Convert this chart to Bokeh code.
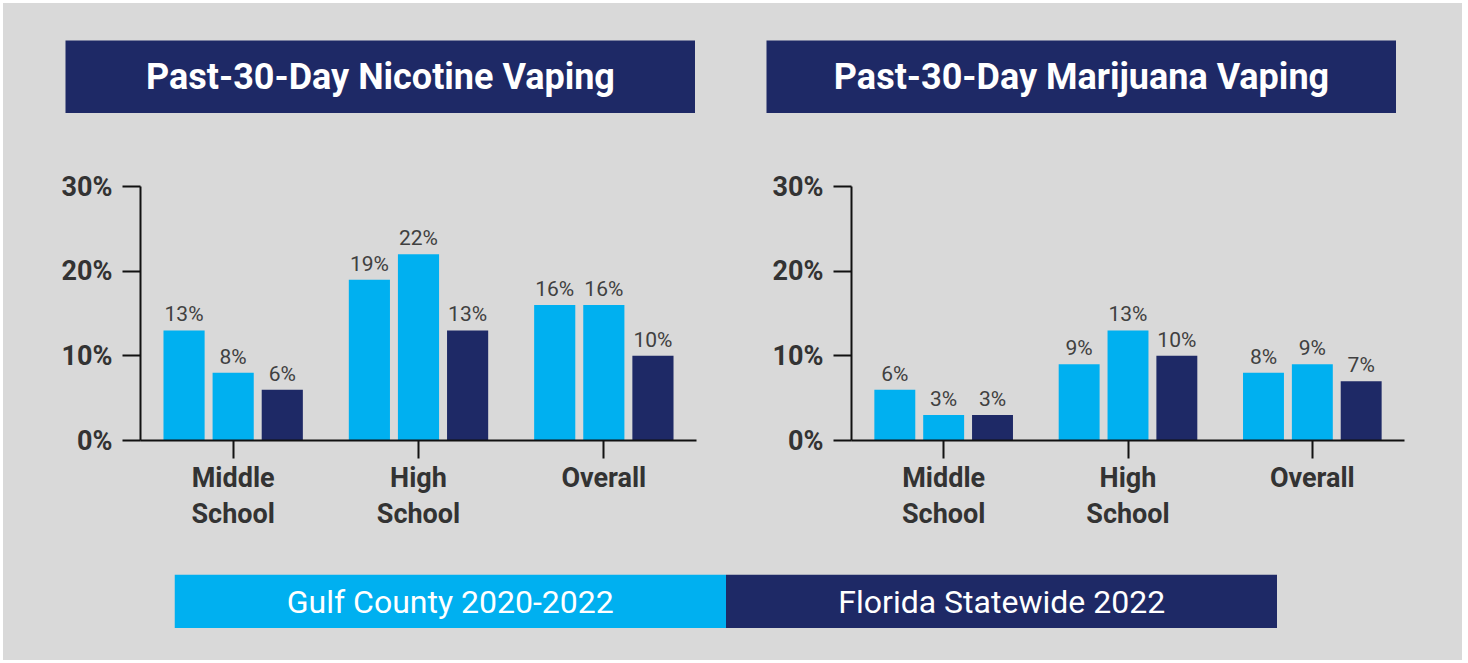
import numpy as np
from bokeh.plotting import figure
from bokeh.layouts import row, column
from bokeh.models import ColumnDataSource, Range1d, FixedTicker, PrintfTickFormatter, LabelSet
from bokeh.core.properties import value
from bokeh.embed import file_html
from bokeh.resources import INLINE

# ---- data ----
categories = ["Middle School", "High School", "Overall"]
tick_labels = ["Middle\nSchool", "High\nSchool", "Overall"]
series_names = ["Gulf County 2020", "Gulf County 2022", "Florida Statewide 2022"]
nicotine_gulf_2020 = [13, 19, 16]
nicotine_gulf_2022 = [8, 22, 16]
nicotine_florida_2022 = [6, 13, 10]
marijuana_gulf_2020 = [6, 9, 8]
marijuana_gulf_2022 = [3, 13, 9]
marijuana_florida_2022 = [3, 10, 7]
titles = ["Past-30-Day Nicotine Vaping", "Past-30-Day Marijuana Vaping"]
legend_labels = ["Gulf County 2020-2022", "Florida Statewide 2022"]
y_ticks = [0, 10, 20, 30]

# ---- style ----
BG = "#d9d9d9"
LIGHT = "#00b0f0"
NAVY = "#1e2966"
TEXT = "#333333"
FONT = "Roboto"
series_colors = [LIGHT, LIGHT, NAVY]
offsets = [-0.265, 0.0, 0.265]
BAR_W = 0.222


def title_fig(t, margin):
    f = figure(width=630, height=73, x_range=Range1d(0, 1), y_range=Range1d(0, 1),
               output_backend="svg", toolbar_location=None, min_border=0,
               x_axis_location=None, y_axis_location=None,
               background_fill_color=NAVY, border_fill_color=NAVY, outline_line_color=None)
    f.grid.visible = False
    f.text(x=[0.5], y=[0.5], text=[t], text_font=value(FONT), text_font_style="bold",
           text_font_size="36px", text_color="white", text_align="center", text_baseline="middle")
    f.margin = margin
    return f


def panel(series_vals, width, bl, br):
    p = figure(width=width, height=447, x_range=Range1d(-0.5, 2.5), y_range=Range1d(0, 30),
               output_backend="svg", toolbar_location=None,
               min_border_left=bl, min_border_right=br, min_border_top=73, min_border_bottom=120,
               background_fill_color=BG, border_fill_color=BG, outline_line_color=None)
    p.grid.visible = False
    idx = np.arange(len(categories))
    for vals, col, off, name in zip(series_vals, series_colors, offsets, series_names):
        src = ColumnDataSource(dict(x=idx + off, top=vals, label=[f"{v}%" for v in vals]))
        p.vbar(x="x", top="top", width=BAR_W, source=src, fill_color=col, line_color=None)
        p.add_layout(LabelSet(x="x", y="top", text="label", source=src, text_align="center",
                              text_baseline="alphabetic", y_offset=9,
                              text_font=value(FONT), text_font_size="21px", text_color="#404040"))
    # y axis
    p.yaxis.ticker = FixedTicker(ticks=y_ticks)
    p.yaxis.formatter = PrintfTickFormatter(format="%d%%")
    p.yaxis.axis_line_color = "#111111"
    p.yaxis.axis_line_width = 2
    p.yaxis.major_tick_line_color = "#111111"
    p.yaxis.major_tick_line_width = 2
    p.yaxis.major_tick_out = 18
    p.yaxis.major_tick_in = 0
    p.yaxis.minor_tick_line_color = None
    p.yaxis.major_label_standoff = 10
    p.yaxis.major_label_text_font = FONT
    p.yaxis.major_label_text_font_style = "bold"
    p.yaxis.major_label_text_font_size = "27px"
    p.yaxis.major_label_text_color = TEXT
    # x axis
    p.xaxis.ticker = FixedTicker(ticks=list(range(len(categories))))
    p.xaxis.major_label_overrides = {i: lab for i, lab in enumerate(tick_labels)}
    p.xaxis.axis_line_color = "#111111"
    p.xaxis.axis_line_width = 2
    p.xaxis.major_tick_line_color = "#111111"
    p.xaxis.major_tick_line_width = 2
    p.xaxis.major_tick_out = 18
    p.xaxis.major_tick_in = 0
    p.xaxis.minor_tick_line_color = None
    p.xaxis.major_label_standoff = 3
    p.xaxis.major_label_text_font = FONT
    p.xaxis.major_label_text_font_style = "bold"
    p.xaxis.major_label_text_font_size = "27px"
    p.xaxis.major_label_text_line_height = 1.15
    p.xaxis.major_label_text_color = TEXT
    return p


t1 = title_fig(titles[0], (37, 0, 0, 62))
t2 = title_fig(titles[1], (37, 0, 0, 71))

p1 = panel([nicotine_gulf_2020, nicotine_gulf_2022, nicotine_florida_2022], 729, 137, 36)
p2 = panel([marijuana_gulf_2020, marijuana_gulf_2022, marijuana_florida_2022], 730, 119, 58)

lg = figure(width=1103, height=54, x_range=Range1d(0, 2), y_range=Range1d(0, 1),
            output_backend="svg", toolbar_location=None, min_border=0,
            x_axis_location=None, y_axis_location=None,
            background_fill_color=BG, border_fill_color=BG, outline_line_color=None)
lg.grid.visible = False
lsrc = ColumnDataSource(dict(x=np.arange(len(legend_labels)) + 0.5, label=legend_labels,
                             color=[LIGHT, NAVY]))
lg.rect(x="x", y=0.5, width=1, height=1, fill_color="color", line_color=None, source=lsrc)
lg.text(x="x", y=0.5, text="label", source=lsrc, text_font=value(FONT), text_font_size="32px",
        text_color="white", text_align="center", text_baseline="middle")
lg.margin = (14, 0, 32, 171)

layout = column(row(t1, t2), row(p1, p2), lg, styles={"background-color": BG})
layout.margin = (3, 0, 0, 3)

open("out.html", "w").write(file_html(layout, INLINE))
